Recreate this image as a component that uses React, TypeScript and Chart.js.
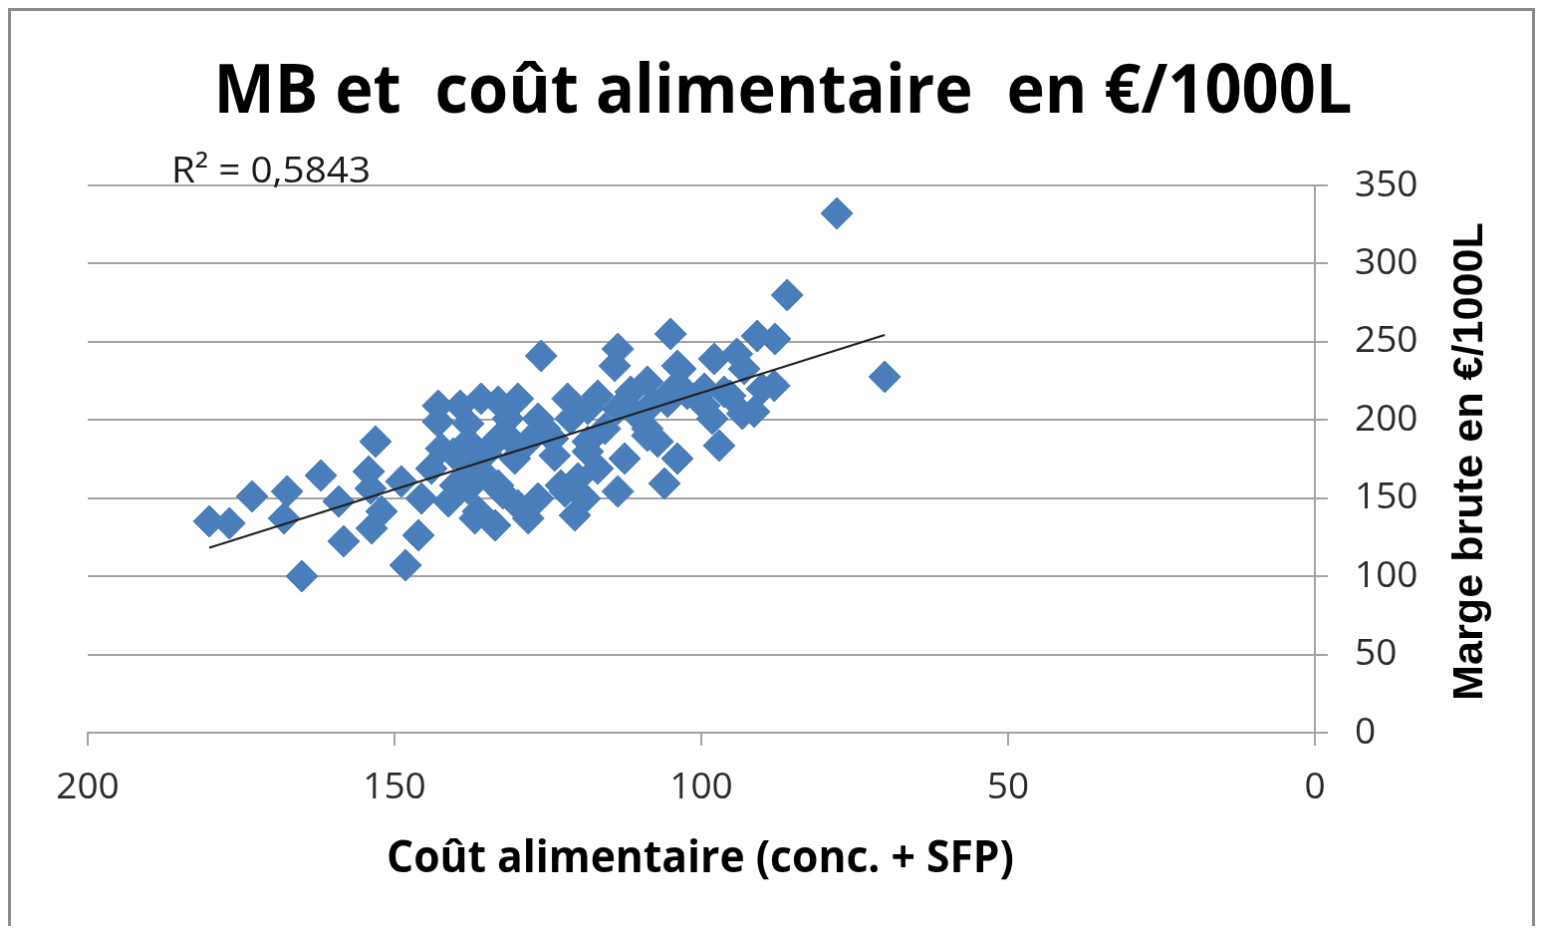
import React, { useEffect, useRef } from "react";
import { Chart, registerables } from "chart.js";

Chart.register(...registerables);

const TITLE = "MB et  coût alimentaire  en €/1000L";
const X_TITLE = "Coût alimentaire (conc. + SFP)";
const Y_TITLE = "Marge brute en €/1000L";
const R2_LABEL = "R² = 0,5843";

const costX = [77.9, 70.1, 86.0, 90.9, 88.0, 105.0, 113.6, 114.1, 126.1, 88.1, 97.1, 103.9, 106.0, 165.1, 148.2, 180.2, 176.9, 173.2, 167.5, 168.0, 162.0, 158.3, 159.1, 153.1, 154.2, 153.9, 152.1, 153.7, 148.9, 146.1, 142.9, 139.3, 133.1, 126.6, 121.8, 142.4, 138.0, 133.1, 130.4, 145.6, 141.2, 136.9, 133.6, 128.2, 122.2, 120.1, 136.4, 142.9, 116.9, 111.5, 105.0, 103.9, 97.9, 99.5, 96.3, 110.4, 121.3, 115.7, 125.5, 108.8, 112.5, 123.9, 118.5, 122.9, 119.0, 113.6, 108.8, 103.4, 93.0, 99.5, 95.3, 91.4, 105.5, 108.8, 107.1, 135.9, 128.2, 118.5, 137.5, 133.1, 140.1, 144.0, 120.6, 129.9, 134.7, 131.5, 129.9, 90.1, 94.2, 102.3, 138.0, 140.4, 135.1, 131.2, 138.0, 132.3, 126.6, 124.2, 118.5, 113.6, 108.0, 116.9, 93.3, 98.2];

const mbY = [332.1, 227.6, 279.9, 253.7, 251.8, 255.0, 245.4, 234.6, 241.0, 221.9, 183.6, 175.3, 159.4, 100.1, 107.1, 135.2, 133.9, 151.1, 154.3, 137.1, 164.5, 122.4, 147.9, 186.2, 167.0, 156.2, 141.5, 130.7, 160.7, 126.2, 209.1, 209.1, 211.7, 200.8, 213.6, 181.7, 186.2, 188.1, 175.3, 149.8, 147.9, 137.1, 132.6, 137.1, 154.3, 162.6, 141.5, 198.9, 215.5, 218.0, 218.0, 234.6, 239.1, 209.1, 218.0, 202.7, 200.8, 194.4, 194.4, 190.0, 175.3, 177.2, 179.8, 158.1, 149.8, 154.3, 224.4, 232.7, 232.7, 219.9, 215.5, 205.3, 211.7, 194.4, 186.2, 213.6, 186.2, 186.2, 168.9, 158.1, 158.1, 168.9, 139.0, 145.4, 162.6, 200.8, 213.6, 219.9, 242.3, 216.8, 197.6, 178.5, 178.5, 188.1, 156.2, 153.0, 149.8, 188.1, 207.2, 207.2, 210.4, 168.9, 204.0, 200.8];

const TREND_SLOPE = -1.236;
const TREND_INTERCEPT = 341.0;

const X_MIN = 0;
const X_MAX = 200;
const X_STEP = 50;
const Y_MIN = 0;
const Y_MAX = 350;
const Y_STEP = 50;

const CANVAS_W = 1527;
const CANVAS_H = 918;

const GRID = "#a3a3a3";

function fitText(
  ctx: CanvasRenderingContext2D,
  text: string,
  x: number,
  y: number,
  font: string,
  width: number,
  align: CanvasTextAlign,
  rotation: number,
  color: string
) {
  ctx.save();
  ctx.font = font;
  const w = ctx.measureText(text).width;
  const s = width / w;
  ctx.translate(x, y);
  ctx.rotate(rotation);
  ctx.scale(s, 1);
  ctx.textAlign = align;
  ctx.textBaseline = "alphabetic";
  ctx.fillStyle = color;
  ctx.fillText(text, 0, 0);
  ctx.restore();
}

const textPlugin = {
  id: "texts",
  afterDraw(chart: any) {
    const ctx = chart.ctx as CanvasRenderingContext2D;
    fitText(ctx, TITLE, 775, 102, "bold 68px 'Open Sans'", 1143, "center", 0, "#000");
    fitText(ctx, R2_LABEL, 161, 172, "36px 'Open Sans'", 200, "left", 0, "#1a1a1a");
    fitText(ctx, X_TITLE, 692, 864, "bold 45px 'Open Sans'", 630, "center", 0, "#000");
    fitText(ctx, Y_TITLE, 1477, 452, "bold 43px 'Liberation Sans'", 480, "center", -Math.PI / 2, "#000");
  },
};

export default function App() {
  const ref = useRef<HTMLCanvasElement | null>(null);

  useEffect(() => {
    if (!ref.current) return;
    const points = costX.map((x, i) => ({ x, y: mbY[i] }));
    const tMin = Math.min(...costX);
    const tMax = Math.max(...costX);
    const trend = [tMax, tMin].map((x) => ({ x, y: TREND_SLOPE * x + TREND_INTERCEPT }));

    const chart = new Chart(ref.current, {
      type: "scatter",
      data: {
        datasets: [
          {
            type: "line",
            label: "trend",
            data: trend,
            borderColor: "#1e1e1e",
            borderWidth: 2,
            pointRadius: 0,
            fill: false,
            order: 0,
          } as any,
          {
            label: "MB",
            data: points,
            pointStyle: "rectRot",
            pointRadius: 16,
            pointHoverRadius: 16,
            backgroundColor: "#4A7EBB",
            borderColor: "#4A7EBB",
            borderWidth: 1,
            order: 1,
          },
        ],
      },
      options: {
        responsive: false,
        animation: false,
        devicePixelRatio: 1,
        layout: { padding: { left: 77, top: 175, right: 0, bottom: 0 } },
        plugins: {
          legend: { display: false },
          title: { display: false },
          tooltip: { enabled: false },
        },
        scales: {
          x: {
            type: "linear",
            position: "bottom",
            reverse: true,
            min: X_MIN,
            max: X_MAX,
            ticks: {
              stepSize: X_STEP,
              padding: 20,
              color: "#2a2a2a",
              font: { family: "'Open Sans'", size: 37 },
              maxRotation: 0,
            },
            grid: {
              drawOnChartArea: false,
              drawTicks: true,
              tickLength: 13,
              color: GRID,
              lineWidth: 2,
            },
            border: { display: true, color: GRID, width: 2 },
            afterFit: (scale: any) => {
              scale.height = CANVAS_H - 724;
            },
          },
          y: {
            type: "linear",
            position: "right",
            min: Y_MIN,
            max: Y_MAX,
            ticks: {
              stepSize: Y_STEP,
              padding: 27,
              color: "#2a2a2a",
              font: { family: "'Open Sans'", size: 37 },
            },
            grid: {
              drawTicks: true,
              tickLength: 13,
              color: GRID,
              lineWidth: 2,
            },
            border: { display: true, color: GRID, width: 2 },
            afterFit: (scale: any) => {
              scale.width = CANVAS_W - 1309;
            },
          },
        },
      },
      plugins: [textPlugin],
    });
    return () => chart.destroy();
  }, []);

  return (
    <canvas
      ref={ref}
      width={CANVAS_W}
      height={CANVAS_H}
      style={{
        display: "block",
        borderTop: "3px solid #8c8c8c",
        borderLeft: "3px solid #8c8c8c",
        borderRight: "3px solid #8c8c8c",
        background: "#fff",
      }}
    />
  );
}
